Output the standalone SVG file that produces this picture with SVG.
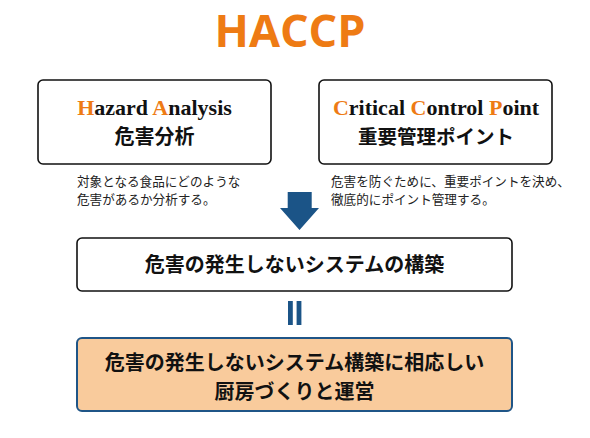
<svg xmlns="http://www.w3.org/2000/svg" width="590" height="438" viewBox="0 0 590 438">
<style>
.box{fill:#fff;stroke:#111;stroke-width:1.6}
.en{font-family:"Liberation Serif","Noto Serif CJK JP",serif;font-weight:bold;font-size:22px;fill:#111}
.hl{fill:#EE7B14}
.jp{font-family:"Noto Sans CJK JP","Noto Sans",sans-serif;font-weight:bold;fill:#111}
.desc{font-family:"Noto Sans CJK JP","Noto Sans",sans-serif;font-size:12.6px;fill:#222}
.blue{fill:#1B5487}
</style>
<rect width="590" height="438" fill="#fff"/>
<g id="title">
<text x="290" y="47" text-anchor="middle" font-family="'Open Sans','Noto Sans',sans-serif" font-weight="bold" font-size="45" fill="#EE7B14">HACCP</text>
</g>
<g id="hazard-analysis">
<rect class="box" x="38" y="80" width="233" height="84" rx="5"/>
<text class="en" x="154.5" y="115" text-anchor="middle"><tspan class="hl">H</tspan>azard <tspan class="hl">A</tspan>nalysis</text>
<text class="jp" x="154.5" y="144" text-anchor="middle" font-size="20">危害分析</text>
</g>
<g id="critical-control-point">
<rect class="box" x="319" y="80" width="233" height="84" rx="5"/>
<text class="en" x="436" y="115" text-anchor="middle"><tspan class="hl">C</tspan>ritical <tspan class="hl">C</tspan>ontrol <tspan class="hl">P</tspan>oint</text>
<text class="jp" x="436" y="144" text-anchor="middle" font-size="19.5">重要管理ポイント</text>
</g>
<g id="desc-left">
<text class="desc" x="77" y="186">対象となる食品にどのような</text>
<text class="desc" x="77" y="203.5">危害があるか分析する。</text>
</g>
<g id="desc-right">
<text class="desc" x="331" y="186">危害を防ぐために、重要ポイントを決め、</text>
<text class="desc" x="331" y="203.5">徹底的にポイント管理する。</text>
</g>
<g id="connectors">
<polygon class="blue" points="287.7,192 311.7,192 311.7,208 319,208 299.5,230 280,208 287.7,208"/>
<rect class="blue" x="288" y="301" width="4.8" height="24"/>
<rect class="blue" x="296.6" y="301" width="4.8" height="24"/>
</g>
<g id="system">
<rect class="box" x="77" y="238" width="435" height="53" rx="5"/>
<text class="jp" x="294.5" y="272" text-anchor="middle" font-size="20">危害の発生しないシステムの構築</text>
</g>
<g id="kitchen">
<rect x="77" y="338" width="435" height="73" rx="5" fill="#F9CB9C" stroke="#1F5587" stroke-width="2"/>
<text class="jp" x="294.5" y="370" text-anchor="middle" font-size="20">危害の発生しないシステム構築に相応しい</text>
<text class="jp" x="294.5" y="399" text-anchor="middle" font-size="20">厨房づくりと運営</text>
</g>
</svg>
